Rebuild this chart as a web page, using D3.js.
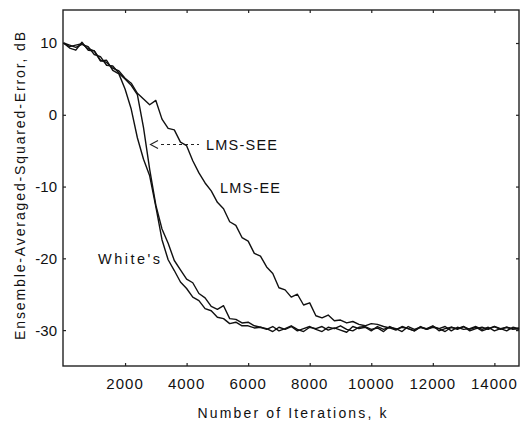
<!DOCTYPE html>
<html>
  <head>
    <meta charset="utf-8">
    <title>Ensemble-Averaged-Squared-Error</title>
    <script src="https://cdn.jsdelivr.net/npm/d3@7"></script>
    <style>
      body { margin: 0; background: #fff; }
      svg { display: block; font-family: "Liberation Sans", Arial, sans-serif; fill: #111; }
    </style>
  </head>
  <body>
    <div id="chart"></div>
    <script>
      // iteration count k, one sample every 200 iterations
      var iterations = [0,200,400,600,800,1000,1200,1400,1600,1800,
        2000,2200,2400,2600,2800,3000,3200,3400,3600,3800,
        4000,4200,4400,4600,4800,5000,5200,5400,5600,5800,
        6000,6200,6400,6600,6800,7000,7200,7400,7600,7800,
        8000,8200,8400,8600,8800,9000,9200,9400,9600,9800,
        10000,10200,10400,10600,10800,11000,11200,11400,11600,11800,
        12000,12200,12400,12600,12800,13000,13200,13400,13600,13800,
        14000,14200,14400,14600,14800];

      // squared error in dB
      var whites = [10.0,9.3,9.0,10.1,9.0,8.9,7.5,7.6,6.2,5.7,
        3.6,0.8,-3.2,-6.2,-8.5,-12.8,-17.4,-20.2,-21.7,-23.3,
        -24.2,-25.4,-25.9,-27.0,-27.3,-28.2,-28.4,-29.1,-28.9,-29.4,
        -29.4,-29.7,-29.6,-29.9,-29.5,-30.1,-29.8,-29.4,-29.9,-30.2,
        -29.6,-29.8,-29.5,-30.0,-29.7,-30.0,-30.3,-29.5,-29.8,-29.6,
        -30.1,-29.5,-29.9,-29.6,-29.8,-30.2,-29.5,-29.9,-29.6,-29.8,
        -29.4,-30.1,-29.8,-29.6,-29.9,-29.5,-30.1,-29.8,-29.6,-29.9,
        -29.5,-29.8,-30.1,-29.6,-29.8];

      var lmsSee = [10.0,9.7,9.4,9.8,9.5,8.4,8.1,6.9,6.8,5.8,
        5.0,4.1,2.8,-1.8,-7.6,-12.6,-15.9,-17.9,-20.3,-21.6,
        -22.9,-23.4,-24.9,-25.5,-26.7,-27.1,-26.6,-28.4,-28.5,-29.0,
        -28.9,-29.4,-29.6,-29.8,-30.2,-29.6,-29.9,-29.5,-30.1,-29.8,
        -29.5,-29.9,-30.2,-29.6,-29.8,-29.4,-29.9,-30.1,-29.6,-29.5,
        -29.9,-29.7,-30.2,-29.5,-29.9,-29.6,-29.8,-30.1,-29.5,-29.9,
        -29.6,-29.8,-29.5,-30.1,-29.6,-29.9,-29.8,-29.5,-29.9,-29.6,
        -30.1,-29.8,-29.6,-29.9,-29.7];

      var lmsEe = [10.0,9.5,9.7,9.9,9.2,8.9,7.6,7.3,6.5,6.1,
        5.1,4.4,3.0,2.2,1.4,2.0,-0.6,-1.9,-2.1,-3.8,
        -4.3,-6.4,-8.1,-9.5,-10.6,-12.2,-13.1,-14.9,-15.4,-17.1,
        -17.6,-19.3,-19.7,-21.2,-22.1,-24.1,-24.4,-25.4,-25.0,-26.5,
        -26.2,-28.0,-28.3,-27.9,-28.7,-28.6,-29.0,-28.8,-29.2,-29.4,
        -29.1,-29.2,-29.5,-29.7,-30.0,-29.5,-29.8,-30.1,-29.6,-29.9,
        -29.5,-29.8,-30.2,-29.6,-29.8,-29.5,-29.9,-29.6,-30.1,-29.8,
        -29.5,-29.9,-29.6,-29.8,-29.9];

      var xTicks = [2000,4000,6000,8000,10000,12000,14000];
      var yTicks = [10,0,-10,-20,-30];

      var width = 530, height = 426;
      var plotL = 63, plotR = 519, plotT = 10, plotB = 366;

      var svg = d3.select("#chart").append("svg")
        .attr("width", width)
        .attr("height", height);

      var x = d3.scaleLinear().domain([0, 14800]).range([plotL + 0.5, plotR]);
      var y = d3.scaleLinear().domain([-35, 14.6]).range([plotB, plotT]);

      // frame
      svg.append("rect")
        .attr("x", plotL).attr("y", plotT)
        .attr("width", plotR - plotL).attr("height", plotB - plotT)
        .style("fill", "none").style("stroke", "#222").style("stroke-width", 1.4);

      // inside ticks on all four sides
      svg.append("g").attr("transform", "translate(0," + plotB + ")")
        .call(d3.axisTop(x).tickValues(xTicks).tickSize(3).tickFormat(""))
        .call(function (g) { g.select(".domain").remove(); });
      svg.append("g").attr("transform", "translate(0," + plotT + ")")
        .call(d3.axisBottom(x).tickValues(xTicks).tickSize(3).tickFormat(""))
        .call(function (g) { g.select(".domain").remove(); });
      svg.append("g").attr("transform", "translate(" + plotL + ",0)")
        .call(d3.axisRight(y).tickValues(yTicks).tickSize(3).tickFormat(""))
        .call(function (g) { g.select(".domain").remove(); });
      svg.append("g").attr("transform", "translate(" + plotR + ",0)")
        .call(d3.axisLeft(y).tickValues(yTicks).tickSize(3).tickFormat(""))
        .call(function (g) { g.select(".domain").remove(); });
      svg.selectAll(".tick line").style("stroke", "#222").style("stroke-width", 1.2);

      // tick labels
      svg.selectAll(".xlab").data(xTicks).enter().append("text")
        .attr("x", function (d) { return x(d); })
        .attr("y", 389)
        .attr("text-anchor", "middle")
        .style("font-size", "15px")
        .style("letter-spacing", "1px")
        .text(function (d) { return d; });

      svg.selectAll(".ylab").data(yTicks).enter().append("text")
        .attr("x", 57)
        .attr("y", function (d) { return y(d); })
        .attr("dy", "0.36em")
        .attr("text-anchor", "end")
        .style("font-size", "15px")
        .text(function (d) { return d; });

      // axis titles
      svg.append("text")
        .attr("x", 292).attr("y", 418)
        .attr("text-anchor", "middle")
        .attr("textLength", 189).attr("lengthAdjust", "spacing")
        .style("font-size", "14px")
        .text("Number of Iterations, k");

      svg.append("text")
        .attr("transform", "translate(25,186) rotate(-90)")
        .attr("text-anchor", "middle")
        .attr("textLength", 308).attr("lengthAdjust", "spacing")
        .style("font-size", "14px")
        .text("Ensemble-Averaged-Squared-Error, dB");

      // curves
      var line = d3.line()
        .x(function (d) { return x(d[0]); })
        .y(function (d) { return y(d[1]); });

      [whites, lmsSee, lmsEe].forEach(function (s) {
        svg.append("path")
          .datum(d3.zip(iterations, s))
          .attr("d", line)
          .style("fill", "none")
          .style("stroke", "#111")
          .style("stroke-width", 1.4)
          .style("stroke-linejoin", "round");
      });

      // annotations
      svg.append("line")
        .attr("x1", 161).attr("y1", 144.5).attr("x2", 199).attr("y2", 144.5)
        .style("stroke", "#222").style("stroke-width", 1.1)
        .style("stroke-dasharray", "3,3");
      svg.append("path")
        .attr("d", "M158,140.5 L150.5,144.5 L158,148.5")
        .style("fill", "none").style("stroke", "#222").style("stroke-width", 1.1);

      svg.append("text").attr("x", 206).attr("y", 150)
        .attr("textLength", 71).attr("lengthAdjust", "spacing")
        .style("font-size", "14.5px").text("LMS-SEE");
      svg.append("text").attr("x", 220).attr("y", 193)
        .attr("textLength", 60).attr("lengthAdjust", "spacing")
        .style("font-size", "14.5px").text("LMS-EE");
      svg.append("text").attr("x", 98).attr("y", 264)
        .attr("textLength", 62).attr("lengthAdjust", "spacing")
        .style("font-size", "14.5px").text("White's");
    </script>
  </body>
</html>
